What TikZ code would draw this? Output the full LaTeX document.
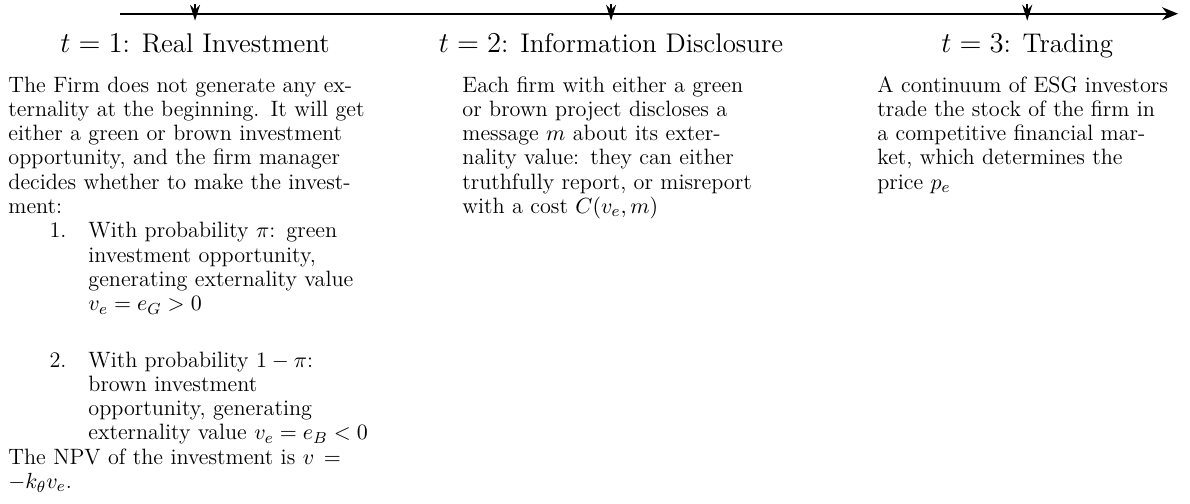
\documentclass[tikz,border=0pt]{standalone}
\usepackage{amsmath}
\usepackage{amssymb}
\usepackage{enumitem}
\usetikzlibrary{arrows.meta, calc}

\begin{document}
\begin{tikzpicture}
% Page size and positions (cm)
\pgfmathsetmacro{\W}{20.91}
\pgfmathsetmacro{\H}{8.84}
\pgfmathsetmacro{\yLine}{-0.241}
\pgfmathsetmacro{\yHead}{-0.914}
\pgfmathsetmacro{\yText}{-1.617}
\useasboundingbox (0,0) rectangle (\W,-\H);

% Draw time line
\coordinate (start) at (2.109,\yLine);
\coordinate (end) at (20.70,\yLine);
\draw[-{Stealth[length=8pt,width=6.5pt]}, thick] (start) -- (end);

% Draw the three dates
\coordinate (tOne) at (3.427,\yLine);
\coordinate (tTwo) at (10.737,\yLine);
\coordinate (tThree) at (18.05,\yLine);
\draw[-{Stealth[length=8pt,width=5pt]}, thick] ($(tOne)+(0,0.17)$) -- ($(tOne)+(0,-0.123)$);
\draw[-{Stealth[length=8pt,width=5pt]}, thick] ($(tTwo)+(0,0.17)$) -- ($(tTwo)+(0,-0.123)$);
\draw[-{Stealth[length=8pt,width=5pt]}, thick] ($(tThree)+(0,0.17)$) -- ($(tThree)+(0,-0.123)$);

% Headings
\node[anchor=base] (headOne) at (3.427,\yHead) {\fontsize{13.5}{16}\selectfont $t=1$: Real Investment};
\node[anchor=base] (headTwo) at (10.737,\yHead) {\fontsize{13.5}{16}\selectfont $t=2$: Information Disclosure};
\node[anchor=base] (headThree) at (18.05,\yHead) {\fontsize{13.5}{16}\selectfont $t=3$: Trading};

% Descriptions (ragged right, hyphens allowed)
\tikzset{desc/.style={anchor=base west, inner sep=0pt, font=\fontsize{11.1}{12.15}\selectfont,
  execute at begin node={\rightskip=0pt plus 2em\relax}}}
\node[desc, text width=180pt] (textOne) at (0.141,\yText) {The Firm does not generate any externality at the beginning. It will get either a green or brown investment opportunity, and the firm manager decides whether to make the investment:
\begin{enumerate}[leftmargin=40pt, rightmargin=4pt, labelsep=11pt, topsep=0pt, partopsep=0pt, parsep=0pt, itemsep=16pt]
\item With probability $\pi$: green investment opportunity, generating externality value $v_e = e_G > 0$
\item With probability $1-\pi$: brown investment opportunity, generating \mbox{externality value $v_e = e_B < 0$}
\end{enumerate}
The NPV of the investment is $v = -k_\theta v_e$.};
\node[desc, text width=149pt] (textTwo) at (8.119,\yText) {Each firm with either a green or brown project discloses a message $m$ about its externality value: they can either truthfully report, or misreport with a cost $C(v_e, m)$};
\node[desc, text width=149pt] (textThree) at (15.41,\yText) {A continuum of ESG investors trade the stock of the firm in a~competitive financial market,~which determines the price $p_e$};

\end{tikzpicture}
\end{document}
